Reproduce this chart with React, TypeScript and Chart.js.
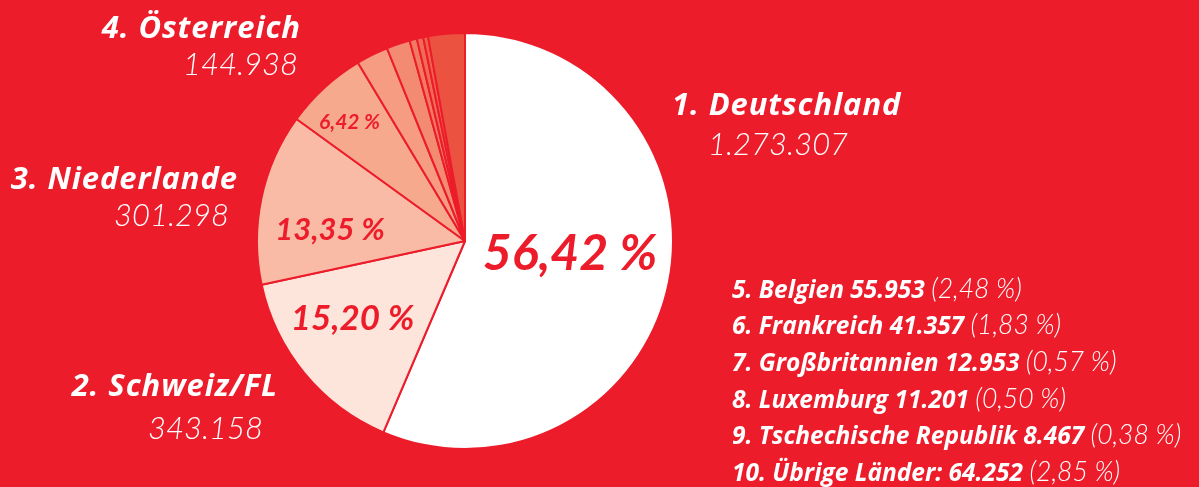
import React, { useEffect, useRef } from 'react';
import { Chart, registerables } from 'chart.js';

Chart.register(...registerables);

const countries = ['Deutschland', 'Schweiz/FL', 'Niederlande', 'Österreich', 'Belgien', 'Frankreich', 'Großbritannien', 'Luxemburg', 'Tschechische Republik', 'Übrige Länder:'];
const visitors = [1273307, 343158, 301298, 144938, 55953, 41357, 12953, 11201, 8467, 64252];
const visitorLabels = ['1.273.307', '343.158', '301.298', '144.938', '55.953', '41.357', '12.953', '11.201', '8.467', '64.252'];
const percentLabels = ['56,42 %', '15,20 %', '13,35 %', '6,42 %', '2,48 %', '1,83 %', '0,57 %', '0,50 %', '0,38 %', '2,85 %'];

const BG = '#ED1C2B';
const sliceColors = ['#FFFFFF', '#FDE5DB', '#F9BBA5', '#F7A98E', '#F59C82', '#F38B72', '#F17A62', '#EF6D57', '#EE624E', '#EC5240'];

// inner percentage label styling (first four slices)
const innerFontSizes = [50, 35, 31, 21];
const innerRadiusFrac = [0.509, 0.658, 0.651, 0.797];
const innerAngleShift = [-4.5, 4.8, -7.3, -1.6];

const FONT = 'Lato, "Open Sans", sans-serif';
const BOLD_FONT = '"Open Sans", Lato, sans-serif';

const innerLabelPlugin = {
  id: 'innerLabels',
  afterDatasetsDraw(chart: any) {
    const ctx = chart.ctx;
    const meta = chart.getDatasetMeta(0);
    ctx.save();
    ctx.fillStyle = BG;
    ctx.textAlign = 'center';
    ctx.textBaseline = 'middle';
    for (let i = 0; i < innerFontSizes.length; i++) {
      const arc = meta.data[i];
      const mid = (arc.startAngle + arc.endAngle) / 2 + (innerAngleShift[i] * Math.PI) / 180;
      const r = arc.outerRadius * innerRadiusFrac[i];
      const x = arc.x + Math.cos(mid) * r;
      const y = arc.y + Math.sin(mid) * r;
      ctx.font = `italic 700 ${innerFontSizes[i]}px ${FONT}`;
      ctx.fillText(percentLabels[i], x, y);
    }
    ctx.restore();
  },
};

type OuterLabel = { idx: number; side: 'left' | 'right'; x: number; nameTop: number; valX: number; valTop: number };
const outerLabels: OuterLabel[] = [
  { idx: 0, side: 'left', x: 672, nameTop: 88, valX: 708, valTop: 128 },
  { idx: 1, side: 'right', x: 277, nameTop: 369, valX: 263, valTop: 412 },
  { idx: 2, side: 'right', x: 237, nameTop: 162, valX: 229, valTop: 199 },
  { idx: 3, side: 'right', x: 300, nameTop: 11, valX: 298, valTop: 48 },
];

export default function App() {
  const canvasRef = useRef<HTMLCanvasElement | null>(null);

  useEffect(() => {
    document.body.style.margin = '0';
    const canvas = canvasRef.current;
    if (!canvas) return;
    const chart = new Chart(canvas, {
      type: 'pie',
      data: {
        labels: countries,
        datasets: [
          {
            data: visitors,
            backgroundColor: sliceColors,
            borderColor: BG,
            borderWidth: 2,
          },
        ],
      },
      options: {
        responsive: false,
        animation: false,
        layout: { padding: { left: 256, right: 525, top: 32, bottom: 37 } },
        plugins: {
          legend: { display: false },
          tooltip: { enabled: false },
        },
      },
      plugins: [innerLabelPlugin],
    });
    return () => chart.destroy();
  }, []);

  const nameStyle = (size: number, spacing = 0): React.CSSProperties => ({
    fontFamily: BOLD_FONT,
    fontStyle: 'italic',
    fontWeight: 700,
    fontSize: size,
    letterSpacing: spacing,
    lineHeight: 1,
    color: '#fff',
    whiteSpace: 'nowrap',
  });
  const valStyle = (size: number): React.CSSProperties => ({
    fontFamily: FONT,
    fontStyle: 'italic',
    fontWeight: 300,
    fontSize: size,
    lineHeight: 1,
    color: '#fff',
    whiteSpace: 'nowrap',
  });

  const legendBaseTop = 274.5;
  const legendStep = 36.67;

  return (
    <div style={{ position: 'relative', width: 1199, height: 487, background: BG, overflow: 'hidden' }}>
      <canvas ref={canvasRef} width={1199} height={487} style={{ position: 'absolute', left: 0, top: 0 }} />
      {outerLabels.map((l) => {
        const pos: React.CSSProperties =
          l.side === 'left' ? { position: 'absolute', left: l.x } : { position: 'absolute', right: 1199 - l.x - 1 };
        const vpos: React.CSSProperties =
          l.side === 'left' ? { position: 'absolute', left: l.valX } : { position: 'absolute', right: 1199 - l.valX };
        return (
          <React.Fragment key={l.idx}>
            <div style={{ ...pos, top: l.nameTop, ...nameStyle(31, 0.9) }}>{`${l.idx + 1}. ${countries[l.idx]}`}</div>
            <div style={{ ...vpos, top: l.valTop, ...valStyle(31) }}>{visitorLabels[l.idx]}</div>
          </React.Fragment>
        );
      })}
      {countries.slice(4).map((c, k) => {
        const i = k + 4;
        return (
          <div key={c} style={{ position: 'absolute', left: 732, top: legendBaseTop + k * legendStep, ...nameStyle(24.5) }}>
            {`${i + 1}. ${c} ${visitorLabels[i]} `}
            <span style={{ fontFamily: FONT, fontWeight: 300, fontSize: 26.5 }}>{`(${percentLabels[i]})`}</span>
          </div>
        );
      })}
    </div>
  );
}
